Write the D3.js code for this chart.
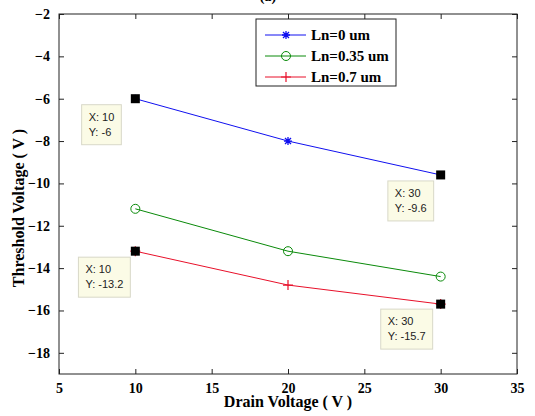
<!DOCTYPE html>
<html>
<head>
<meta charset="utf-8">
<script src="https://cdn.jsdelivr.net/npm/d3@7"></script>
<style>
  body { margin: 0; background: #fff; }
  svg { display: block; }
</style>
</head>
<body>
<div id="chart"></div>
<script>
// data
const drainVoltage = [10, 20, 30];
const seriesNames = ["Ln=0 um", "Ln=0.35 um", "Ln=0.7 um"];
const vthLn0 = [-6, -8, -9.6];
const vthLn035 = [-11.2, -13.2, -14.4];
const vthLn07 = [-13.2, -14.8, -15.7];
const xTicks = [5, 10, 15, 20, 25, 30, 35];
const yTicks = [-2, -4, -6, -8, -10, -12, -14, -16, -18];
// data tips: [x, y]
const tipPoints = [[10, -6], [30, -9.6], [10, -13.2], [30, -15.7]];

/*******************************/
/*    Declare the constants    */
/*******************************/
const width = 535;
const height = 416;
const margin = { top: 14, right: 18, bottom: 42, left: 59 };
const innerWidth = width - margin.left - margin.right;
const innerHeight = height - margin.top - margin.bottom;
const serif = "'Liberation Serif', 'Times New Roman', serif";
const colors = ["#1010f0", "#0a8a0a", "#e8102a"];
const markers = ["asterisk", "circle", "plus"];
// datatip box offsets from the marked point (dx to box right edge, dy to box top)
const tipOffsets = [[-14, 6], [-7, 6], [-5, 6], [-8, 5]];

const svg = d3.select("#chart")
  .append("svg")
  .attr("width", width)
  .attr("height", height);

const inner = svg.append("g")
  .attr("transform", `translate(${margin.left}, ${margin.top})`);

const xScale = d3.scaleLinear().domain([5, 35]).range([0, innerWidth]);
const yScale = d3.scaleLinear().domain([-19, -2]).range([innerHeight, 0]);

// axes (MATLAB style box with inward ticks)
const bottomAxis = d3.axisBottom(xScale).tickValues(xTicks).tickSizeInner(-5).tickSizeOuter(0).tickPadding(9);
const topAxis = d3.axisTop(xScale).tickValues(xTicks).tickSizeInner(-5).tickSizeOuter(0).tickFormat("");
const leftAxis = d3.axisLeft(yScale).tickValues(yTicks).tickSizeInner(-5).tickSizeOuter(0).tickPadding(9);
const rightAxis = d3.axisRight(yScale).tickValues(yTicks).tickSizeInner(-5).tickSizeOuter(0).tickFormat("");

inner.append("g").attr("transform", `translate(0, ${innerHeight})`).call(bottomAxis);
inner.append("g").call(topAxis);
inner.append("g").call(leftAxis);
inner.append("g").attr("transform", `translate(${innerWidth}, 0)`).call(rightAxis);
inner.selectAll(".domain").remove();
inner.selectAll(".tick line").attr("stroke", "#222");
inner.selectAll(".tick text")
  .attr("font-family", serif)
  .attr("font-weight", "bold")
  .attr("font-size", 14)
  .attr("fill", "#000");

inner.append("rect")
  .attr("width", innerWidth)
  .attr("height", innerHeight)
  .attr("fill", "none")
  .attr("stroke", "#222")
  .attr("stroke-width", 1);

// title (cut off at top)
svg.append("text")
  .text("(a)")
  .attr("x", 268)
  .attr("y", 1)
  .attr("text-anchor", "middle")
  .attr("font-family", serif)
  .attr("font-weight", "bold")
  .attr("font-size", 14);

// axis labels
svg.append("text")
  .text("Drain Voltage ( V )")
  .attr("x", margin.left + innerWidth / 2)
  .attr("y", 407)
  .attr("text-anchor", "middle")
  .attr("font-family", serif)
  .attr("font-weight", "bold")
  .attr("font-size", 16);

svg.append("text")
  .text("Threshold Voltage ( V )")
  .attr("transform", `translate(24, ${margin.top + innerHeight / 2 + 14}) rotate(-90)`)
  .attr("text-anchor", "middle")
  .attr("font-family", serif)
  .attr("font-weight", "bold")
  .attr("font-size", 16);

// markers
const drawMarker = (g, type, color) => {
  if (type === "circle") {
    g.append("circle").attr("r", 4.5).attr("fill", "none").attr("stroke", color).attr("stroke-width", 1);
  } else if (type === "plus") {
    g.append("path").attr("d", "M-5,0H5M0,-5V5").attr("stroke", color).attr("stroke-width", 1.2);
  } else {
    g.append("path").attr("d", "M-4,0H4M0,-4V4M-3,-3L3,3M-3,3L3,-3").attr("stroke", color).attr("stroke-width", 1.3);
  }
};

const series = [vthLn0, vthLn035, vthLn07];
const line = d3.line()
  .x(d => xScale(d[0]))
  .y(d => yScale(d[1]));

series.forEach((vals, i) => {
  const pts = drainVoltage.map((x, j) => [x, vals[j]]);
  inner.append("path")
    .datum(pts)
    .attr("d", line)
    .attr("fill", "none")
    .attr("stroke", colors[i])
    .attr("stroke-width", 1);
  pts.forEach(p => {
    const g = inner.append("g").attr("transform", `translate(${xScale(p[0])}, ${yScale(p[1])})`);
    drawMarker(g, markers[i], colors[i]);
  });
});

// data tips
tipPoints.forEach((p, i) => {
  const px = xScale(p[0]);
  const py = yScale(p[1]);
  const lines = [`X: ${p[0]}`, `Y: ${p[1]}`];
  const tip = inner.append("g");
  const box = tip.append("rect");
  const texts = lines.map(s => tip.append("text")
    .text(s)
    .attr("font-family", "'Liberation Sans', Arial, sans-serif")
    .attr("font-size", 11)
    .attr("fill", "#222"));
  const tw = d3.max(texts, t => t.node().getComputedTextLength());
  const boxW = tw + 14;
  const left = px + tipOffsets[i][0] - boxW;
  const top = py + tipOffsets[i][1];
  box.attr("x", left)
    .attr("y", top)
    .attr("width", boxW)
    .attr("height", 40)
    .attr("fill", "#fbfbe6")
    .attr("stroke", "#d8d8c8")
    .attr("stroke-width", 1);
  texts.forEach((t, k) => t.attr("x", left + 7).attr("y", top + 16 + k * 15));
  tip.append("rect")
    .attr("x", px - 4.5)
    .attr("y", py - 4.5)
    .attr("width", 9)
    .attr("height", 9)
    .attr("fill", "#000");
});

// legend
const legend = svg.append("g").attr("transform", "translate(256, 19)");
legend.append("rect")
  .attr("width", 140)
  .attr("height", 67)
  .attr("fill", "#fff")
  .attr("stroke", "#222")
  .attr("stroke-width", 1);
seriesNames.forEach((name, i) => {
  const row = legend.append("g").attr("transform", `translate(0, ${16 + i * 21})`);
  row.append("line")
    .attr("x1", 9).attr("x2", 50)
    .attr("stroke", colors[i]).attr("stroke-width", 1);
  drawMarker(row.append("g").attr("transform", "translate(30, 0)"), markers[i], colors[i]);
  row.append("text")
    .text(name)
    .attr("x", 55)
    .attr("y", 5)
    .attr("font-family", serif)
    .attr("font-weight", "bold")
    .attr("font-size", 15);
});
</script>
</body>
</html>
